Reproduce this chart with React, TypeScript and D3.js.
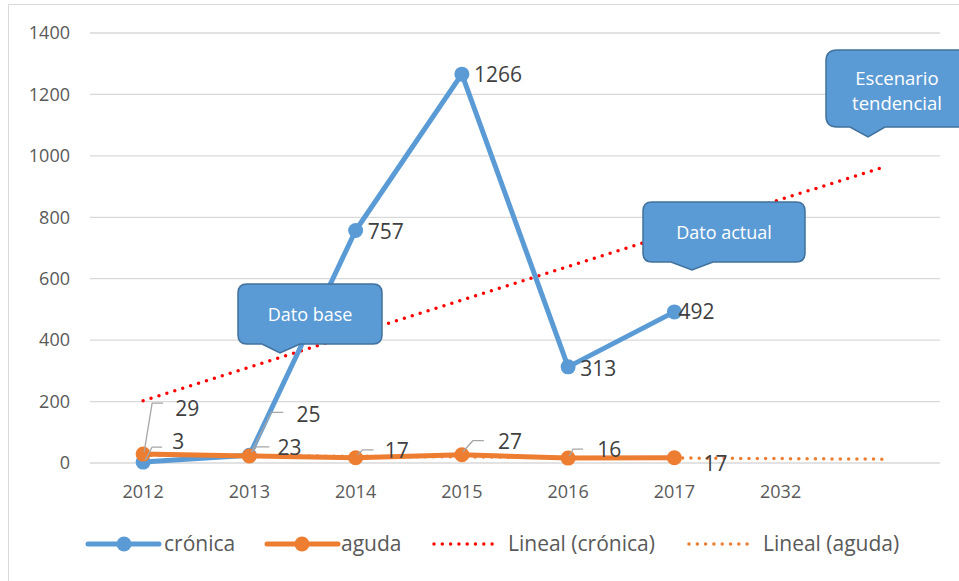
import React from "react";
import * as d3 from "d3";

const categories = ["2012", "2013", "2014", "2015", "2016", "2017", "2032", ""];
const cronica = [3, 25, 757, 1266, 313, 492];
const aguda = [29, 23, 17, 27, 16, 17];
// linear trendline endpoints (value at first category, value at last category)
const trendCronica = [203, 967];
const trendAguda = [25.6, 12.4];
const yTicks = [0, 200, 400, 600, 800, 1000, 1200, 1400];

const W = 959;
const H = 581;
const BLUE = "#5B9BD5";
const ORANGE = "#ED7D31";
const RED = "#FF0000";
const TEXT = "#404040";
const FONT = "'Open Sans', 'Liberation Sans', sans-serif";

function calloutPath(
  x0: number, y0: number, x1: number, y1: number, r: number,
  b0: number, b1: number, tx: number, ty: number
) {
  return [
    `M${x0 + r},${y0}`,
    `L${x1 - r},${y0}`,
    `Q${x1},${y0} ${x1},${y0 + r}`,
    `L${x1},${y1 - r}`,
    `Q${x1},${y1} ${x1 - r},${y1}`,
    `L${b1},${y1}`,
    `L${tx},${ty}`,
    `L${b0},${y1}`,
    `L${x0 + r},${y1}`,
    `Q${x0},${y1} ${x0},${y1 - r}`,
    `L${x0},${y0 + r}`,
    `Q${x0},${y0} ${x0 + r},${y0}`,
    "Z",
  ].join(" ");
}

export default function App() {
  const x = d3.scaleBand<string>().domain(categories.map((c, i) => String(i))).range([90, 940]);
  const cx = (i: number) => (x(String(i)) as number) + x.bandwidth() / 2;
  const y = d3.scaleLinear().domain([0, 1400]).range([463, 33]);

  const line = d3.line<number>().x((_, i) => cx(i)).y((d) => y(d));
  const lastIdx = categories.length - 1;

  const trendLine = (t: number[]) =>
    d3.line<[number, number]>().x((d) => cx(d[0])).y((d) => y(d[1]))([
      [0, t[0]],
      [lastIdx, t[1]],
    ]) as string;

  const cronicaLabels = [
    { dx: 29, dy: -20, leader: [[2, -2], [9, -15], [19, -15]] },
    { dx: 47, dy: -41, leader: [[2, -3], [22, -43], [34, -43]] },
    { dx: 12, dy: 1, leader: null },
    { dx: 12, dy: 0, leader: null },
    { dx: 12, dy: 2, leader: null },
    { dx: 4, dy: 0, leader: null },
  ];
  const agudaLabels = [
    { dx: 32, dy: -45, leader: [[1, -2], [9, -51], [20, -51]] },
    { dx: 28, dy: -8, leader: [[3, -4], [7, -9], [20, -9]] },
    { dx: 29, dy: -7, leader: [[2, -3], [7, -8], [18, -8]] },
    { dx: 36, dy: -13, leader: [[1, -3], [11, -14], [22, -14]] },
    { dx: 29, dy: -8, leader: [[1, -2], [5, -9], [15, -9]] },
    { dx: 29, dy: 6, leader: null },
  ];

  const legendY = 544;
  const LF = 21;

  return (
    <svg
      width={W}
      height={H}
      style={{ position: "fixed", left: 0, top: 0, background: "#fff" }}
      fontFamily={FONT}
    >
      <rect x={0} y={0} width={W} height={H} fill="#fff" />
      <rect x={8.5} y={4.5} width={1100} height={800} fill="none" stroke="#d9d9d9" strokeWidth={1} />

      {yTicks.map((t) => (
        <line key={t} x1={90} x2={940} y1={y(t)} y2={y(t)} stroke="#d9d9d9" strokeWidth={1.3} />
      ))}
      {yTicks.map((t) => (
        <text key={"l" + t} x={70} y={y(t)} dy="0.35em" textAnchor="end" fontSize={18} fill="#595959">
          {t}
        </text>
      ))}
      {categories.map((c, i) => (
        <text key={"x" + i} x={cx(i)} y={492} dy="0.35em" textAnchor="middle" fontSize={18} fill="#595959">
          {c}
        </text>
      ))}

      <path d={trendLine(trendAguda)} fill="none" stroke={ORANGE} strokeWidth={3.5} strokeDasharray="0 8.3" strokeLinecap="round" />
      <path d={trendLine(trendCronica)} fill="none" stroke={RED} strokeWidth={3.5} strokeDasharray="0 8.3" strokeLinecap="round" />

      <path d={line(cronica) as string} fill="none" stroke={BLUE} strokeWidth={5} strokeLinejoin="round" />
      {cronica.map((d, i) => (
        <circle key={"cb" + i} cx={cx(i)} cy={y(d)} r={7.5} fill={BLUE} />
      ))}
      <path d={line(aguda) as string} fill="none" stroke={ORANGE} strokeWidth={5} strokeLinejoin="round" />
      {aguda.map((d, i) => (
        <circle key={"ao" + i} cx={cx(i)} cy={y(d)} r={7.5} fill={ORANGE} />
      ))}

      {cronica.map((d, i) => {
        const L = cronicaLabels[i];
        const px = cx(i);
        const py = y(d);
        return (
          <g key={"cl" + i}>
            {L.leader && (
              <polyline
                points={L.leader.map((p) => `${px + p[0]},${py + p[1]}`).join(" ")}
                fill="none"
                stroke="#a6a6a6"
                strokeWidth={1.3}
              />
            )}
            <text x={px + L.dx} y={py + L.dy} dy="0.35em" fontSize={LF} fill={TEXT}>
              {d}
            </text>
          </g>
        );
      })}
      {aguda.map((d, i) => {
        const L = agudaLabels[i];
        const px = cx(i);
        const py = y(d);
        return (
          <g key={"al" + i}>
            {L.leader && (
              <polyline
                points={L.leader.map((p) => `${px + p[0]},${py + p[1]}`).join(" ")}
                fill="none"
                stroke="#a6a6a6"
                strokeWidth={1.3}
              />
            )}
            <text x={px + L.dx} y={py + L.dy} dy="0.35em" fontSize={LF} fill={TEXT}>
              {d}
            </text>
          </g>
        );
      })}

      <path d={calloutPath(238, 284, 382, 344, 9, 262, 300, 280, 353)} fill={BLUE} stroke="#41719C" strokeWidth={1.5} />
      <text x={310} y={315} dy="0.35em" textAnchor="middle" fontSize={18} fill="#fff">Dato base</text>

      <path d={calloutPath(643, 202, 805, 262, 9, 671, 713, 692, 270)} fill={BLUE} stroke="#41719C" strokeWidth={1.5} />
      <text x={724} y={233} dy="0.35em" textAnchor="middle" fontSize={18} fill="#fff">Dato actual</text>

      <path d={calloutPath(826, 50, 990, 127, 11, 850, 885, 868, 137)} fill={BLUE} stroke="#41719C" strokeWidth={1.5} />
      <text x={897} y={79} dy="0.35em" textAnchor="middle" fontSize={18.5} fill="#fff">Escenario</text>
      <text x={897} y={104} dy="0.35em" textAnchor="middle" fontSize={18.5} fill="#fff">tendencial</text>

      <line x1={88} x2={159} y1={legendY} y2={legendY} stroke={BLUE} strokeWidth={5} strokeLinecap="round" />
      <circle cx={124} cy={legendY} r={7.5} fill={BLUE} />
      <text x={164} y={legendY} dy="0.35em" fontSize={LF} fill="#595959">crónica</text>

      <line x1={267} x2={338} y1={legendY} y2={legendY} stroke={ORANGE} strokeWidth={5} strokeLinecap="round" />
      <circle cx={302} cy={legendY} r={7.5} fill={ORANGE} />
      <text x={341} y={legendY} dy="0.35em" fontSize={LF} fill="#595959">aguda</text>

      <line x1={434} x2={493} y1={legendY} y2={legendY} stroke={RED} strokeWidth={3.5} strokeDasharray="0 8.3" strokeLinecap="round" />
      <text x={508} y={legendY} dy="0.35em" fontSize={LF} fill="#595959">Lineal (crónica)</text>

      <line x1={689} x2={748} y1={legendY} y2={legendY} stroke={ORANGE} strokeWidth={3.5} strokeDasharray="0 8.3" strokeLinecap="round" />
      <text x={763} y={legendY} dy="0.35em" fontSize={LF} fill="#595959">Lineal (aguda)</text>
    </svg>
  );
}
